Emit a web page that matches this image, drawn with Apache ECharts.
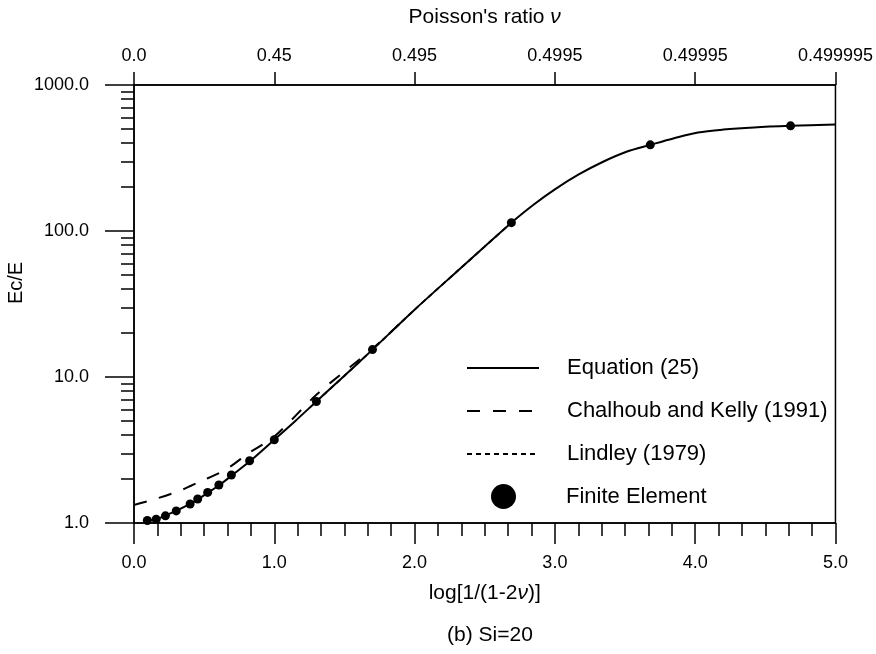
<!DOCTYPE html>
<html>
<head>
<meta charset="utf-8">
<script src="https://cdn.jsdelivr.net/npm/echarts@6/dist/echarts.min.js"></script>
<style>html,body{margin:0;padding:0;background:#fff}#c{width:876px;height:654px}</style>
</head>
<body>
<div id="c"></div>
<script>
// ---- data ----
var eqX = [0.08,0.10,0.16,0.22,0.30,0.40,0.46,0.53,0.61,0.70,0.83,1.00,1.15,1.30,1.50,1.70,2.00,2.30,2.69,2.85,3.00,3.17,3.34,3.51,3.68,3.85,4.02,4.20,4.42,4.68,5.00];
var eqY = [1.02,1.04,1.06,1.12,1.21,1.35,1.46,1.62,1.82,2.13,2.67,3.72,5.0,6.8,10.2,15.4,28.9,52.6,114,152,193,244,297,349,389,432,473,495,512,525,537];
var chX = [0.00,0.11,0.31,0.47,0.65,0.82,1.00,1.30,1.50,1.70,1.90];
var chY = [1.33,1.42,1.64,1.92,2.31,3.02,3.91,7.56,10.9,15.6,23.5];
var lnX = [1.30,1.50,1.70,2.00,2.30,2.69];
var lnY = [6.8,10.2,15.4,28.9,52.6,114];
var feX = [0.095,0.158,0.224,0.301,0.40,0.454,0.525,0.605,0.694,0.824,1.00,1.30,1.70,2.69,3.68,4.68];
var feY = [1.04,1.06,1.12,1.21,1.35,1.46,1.62,1.82,2.13,2.67,3.72,6.8,15.4,114,389,525];
var nuLabels = ['0.0','0.45','0.495','0.4995','0.49995','0.499995'];
var yMajor = [1,10,100,1000];
var yMinor = [2,3,4,5,6,7,8,9,20,30,40,50,60,70,80,90,200,300,400,500,600,700,800,900];

function zip(xs, ys){ return xs.map(function(x,i){ return [x, ys[i]]; }); }

var FONT = 'Liberation Sans, Arial, Helvetica, sans-serif';
var chart = echarts.init(document.getElementById('c'), null, {renderer:'canvas'});
chart.setOption({
  animation: false,
  backgroundColor: '#fff',
  textStyle: {fontFamily: FONT, color: '#000'},
  grid: {left: 134, right: 33, top: 85, bottom: 131, show: true, borderColor: '#000', borderWidth: 1.5, backgroundColor: 'transparent'},
  xAxis: [{
    type: 'value', min: 0, max: 5, interval: 1, position: 'bottom',
    name: 'log[1/(1-2{i|ν})]', nameLocation: 'middle', nameGap: 60,
    nameTextStyle: {fontFamily: FONT, fontSize: 21, color: '#000', rich: {i: {fontFamily: FONT, fontStyle: 'italic', fontSize: 21, color:'#000'}}},
    axisLine: {show: true, onZero: false, lineStyle: {color: '#000', width: 1.5}},
    axisTick: {show: true, inside: false, length: 21, lineStyle: {color: '#000', width: 1.5}},
    minorTick: {show: true, splitNumber: 6, length: 13, lineStyle: {color: '#000', width: 1.5}},
    axisLabel: {margin: 31, fontSize: 18, color: '#000', fontFamily: FONT, showMinLabel: true, showMaxLabel: true,
      formatter: function(v){ return v.toFixed(1); }},
    splitLine: {show: false}, minorSplitLine: {show: false}
  }, {
    type: 'value', min: 0, max: 5, interval: 1, position: 'top',
    name: 'Poisson\'s ratio {i|ν}', nameLocation: 'middle', nameGap: 57,
    nameTextStyle: {fontFamily: FONT, fontSize: 21, color: '#000', rich: {i: {fontFamily: FONT, fontStyle: 'italic', fontSize: 21, color:'#000'}}},
    axisLine: {show: true, onZero: false, lineStyle: {color: '#000', width: 1.5}},
    axisTick: {show: true, inside: false, length: 13, lineStyle: {color: '#000', width: 1.5}},
    axisLabel: {margin: 20, fontSize: 18, color: '#000', fontFamily: FONT, showMinLabel: true, showMaxLabel: true,
      formatter: function(v){ return nuLabels[Math.round(v)]; }},
    splitLine: {show: false}
  }],
  yAxis: [{
    type: 'log', logBase: 10, min: 1, max: 1000, position: 'left',
    axisLine: {show: true, onZero: false, lineStyle: {color: '#000', width: 1.5}},
    axisTick: {show: true, inside: false, length: 29, customValues: yMajor, lineStyle: {color: '#000', width: 1.5}},
    axisLabel: {margin: 45, fontSize: 18, color: '#000', fontFamily: FONT, customValues: yMajor, showMinLabel: true, showMaxLabel: true,
      formatter: function(v){ return Number(v).toFixed(1); }},
    splitLine: {show: false}
  }, {
    type: 'log', logBase: 10, min: 1, max: 1000, position: 'left', offset: 0,
    axisLine: {show: false},
    axisTick: {show: true, inside: false, length: 13, customValues: yMinor, lineStyle: {color: '#000', width: 1.5}},
    axisLabel: {show: false},
    splitLine: {show: false}
  }],
  legend: [{
    orient: 'vertical', left: 466, top: 357, padding: 0, itemWidth: 72, itemHeight: 14, itemGap: 21,
    itemStyle: {opacity: 0, borderWidth: 0},
    formatter: function(name){ return '{g| }' + name; },
    textStyle: {fontFamily: FONT, fontSize: 22, color: '#000', rich: {g: {width: 23, fontSize: 22}}},
    data: ['Equation (25)', 'Chalhoub and Kelly (1991)', 'Lindley (1979)'],
    selectedMode: false
  }, {
    orient: 'vertical', left: 491, top: 484, padding: 0, itemWidth: 25, itemHeight: 25,
    itemStyle: {color: '#000', opacity: 1},
    formatter: function(name){ return '{g| }' + name; },
    textStyle: {fontFamily: FONT, fontSize: 22, color: '#000', rich: {g: {width: 45, fontSize: 22}}},
    data: [{name: 'Finite Element', icon: 'circle'}],
    selectedMode: false
  }],
  graphic: [{
    type: 'text', x: 16, y: 283, rotation: Math.PI/2,
    style: {text: 'Ec/E', fontFamily: FONT, fontSize: 20, fill: '#000', align: 'center', verticalAlign: 'middle'}
  }, {
    type: 'text', x: 490, y: 635,
    style: {text: '(b) Si=20', fontFamily: FONT, fontSize: 21, fill: '#000', align: 'center', verticalAlign: 'middle'}
  }],
  series: [{
    name: 'Lindley (1979)', type: 'line', data: zip(lnX, lnY), smooth: 0.3, symbol: 'none',
    lineStyle: {color: '#000', width: 1.8, type: [5, 4]}, itemStyle: {color: '#000'}, z: 2
  }, {
    name: 'Chalhoub and Kelly (1991)', type: 'line', data: zip(chX, chY), smooth: 0.3, symbol: 'none',
    lineStyle: {color: '#000', width: 2, type: [13, 13]}, itemStyle: {color: '#000'}, z: 2
  }, {
    name: 'Equation (25)', type: 'line', data: zip(eqX, eqY), smooth: 0.3, symbol: 'none',
    lineStyle: {color: '#000', width: 2}, itemStyle: {color: '#000'}, z: 3
  }, {
    name: 'Finite Element', type: 'scatter', data: zip(feX, feY), symbol: 'circle', symbolSize: 9,
    itemStyle: {color: '#000', opacity: 1}, z: 4
  }]
});
</script>
</body>
</html>
